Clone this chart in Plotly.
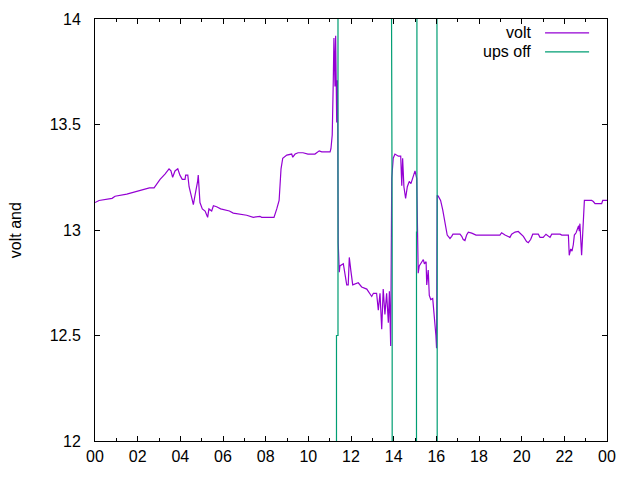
import plotly.graph_objects as go

# ---- data ----
volt_t = [0.00, 0.19, 0.80, 0.94, 1.49, 1.83, 2.19, 2.55, 2.77, 2.89, 3.05, 3.28, 3.47, 3.56, 3.64,
          3.75, 3.88, 3.98, 4.09, 4.22, 4.25, 4.35, 4.41, 4.53, 4.61, 4.69, 4.77, 4.81, 4.84, 4.92,
          5.03, 5.16, 5.28, 5.34, 5.47, 5.55, 5.70, 5.89, 6.30, 6.48, 7.11, 7.42, 7.73, 7.81, 8.39,
          8.44, 8.52, 8.63, 8.67, 8.72, 8.80, 8.99, 9.22, 9.27, 9.38, 9.52, 9.75, 9.98, 10.31, 10.51,
          10.63, 11.02, 11.06, 11.12, 11.17, 11.20, 11.25, 11.28, 11.33, 11.36, 11.38, 11.39, 11.40,
          11.45, 11.48, 11.64, 11.72, 11.80, 11.87, 11.92, 11.99, 12.08, 12.34, 12.50, 12.74, 12.86,
          12.97, 13.05, 13.20, 13.28, 13.36, 13.44, 13.51, 13.59, 13.67, 13.75, 13.80, 13.86, 13.88,
          13.91, 13.98, 14.06, 14.22, 14.33, 14.38, 14.42, 14.48, 14.56, 14.64, 14.73, 14.81, 14.89,
          15.00, 15.08, 15.10, 15.15, 15.20, 15.31, 15.39, 15.44, 15.52, 15.55, 15.62, 15.67, 15.74,
          15.83, 15.89, 15.94, 15.98, 16.01, 16.04, 16.09, 16.20, 16.30, 16.37, 16.45, 16.51, 16.56,
          16.64, 16.72, 16.78, 17.11, 17.19, 17.26, 17.34, 17.42, 17.50, 17.66, 17.86, 18.98, 19.06,
          19.22, 19.33, 19.45, 19.53, 19.69, 19.84, 19.92, 20.08, 20.23, 20.31, 20.42, 20.52, 20.78,
          20.86, 21.01, 21.14, 21.33, 21.41, 21.80, 21.88, 22.19, 22.23, 22.30, 22.36, 22.42, 22.47,
          22.55, 22.61, 22.67, 22.70, 22.73, 22.81, 22.89, 22.94, 23.28, 23.36, 23.44, 23.75, 23.80,
          24.00]
volt_v = [13.13, 13.14, 13.15, 13.16, 13.17, 13.18, 13.19, 13.20, 13.20, 13.22, 13.24, 13.265, 13.29,
          13.28, 13.25, 13.28, 13.29, 13.26, 13.24, 13.24, 13.26, 13.26, 13.205, 13.155, 13.12, 13.165,
          13.20, 13.23, 13.26, 13.13, 13.10, 13.09, 13.06, 13.10, 13.09, 13.115, 13.11, 13.10, 13.09,
          13.08, 13.07, 13.06, 13.065, 13.06, 13.06, 13.08, 13.10, 13.14, 13.24, 13.29, 13.34, 13.355,
          13.36, 13.345, 13.36, 13.366, 13.366, 13.36, 13.36, 13.375, 13.37, 13.37, 13.385, 13.45,
          13.71, 13.91, 13.68, 13.92, 13.51, 13.71, 13.50, 13.29, 12.94, 12.80, 12.83, 12.84, 12.795,
          12.74, 12.74, 12.87, 12.81, 12.74, 12.75, 12.73, 12.72, 12.70, 12.685, 12.70, 12.70, 12.62,
          12.70, 12.53, 12.72, 12.60, 12.70, 12.56, 12.71, 12.45, 12.80, 13.245, 13.34, 13.36, 13.35,
          13.35, 13.21, 13.34, 13.205, 13.15, 13.205, 13.23, 13.22, 13.25, 13.28, 13.245, 12.99,
          12.795, 12.83, 12.85, 12.86, 12.84, 12.85, 12.74, 12.81, 12.69, 12.67, 12.675, 12.61, 12.56,
          12.50, 12.44, 13.165, 13.16, 13.14, 13.095, 13.055, 13.015, 12.976, 12.97, 12.96, 12.97,
          12.98, 12.98, 12.97, 12.955, 12.95, 12.976, 12.99, 12.985, 12.976, 12.976, 12.987, 12.976,
          12.97, 12.965, 12.98, 12.99, 12.993, 12.985, 12.97, 12.945, 12.94, 12.955, 12.98, 12.98,
          12.965, 12.965, 12.98, 12.965, 12.98, 12.98, 12.976, 12.976, 12.88, 12.91, 12.90, 12.93,
          12.976, 12.987, 13.0, 13.02, 12.995, 13.03, 12.88, 13.01, 13.14, 13.14, 13.135, 13.125,
          13.125, 13.14, 13.14]

ups_t = [0, 11.32, 11.32, 11.39, 11.39, 13.90, 13.90, 13.93, 13.93, 15.07, 15.07, 15.09, 15.09,
         16.01, 16.01, 16.04, 16.04, 24]
ups_v = [0, 0, 12.5, 12.5, 100, 100, 13.0, 13.0, 0, 0, 12.99, 12.99, 100, 100, 13.0, 13.0, 0, 0]

tick_hours = list(range(0, 25, 2))
tick_text = ["00", "02", "04", "06", "08", "10", "12", "14", "16", "18", "20", "22", "00"]
series_names = ["volt", "ups off"]
colors = ["#9400D3", "#009E73"]

FONT = "Liberation Sans, Arial, sans-serif"

fig = go.Figure()
fig.add_trace(go.Scatter(x=volt_t, y=volt_v, mode="lines", name=series_names[0],
                         line=dict(color=colors[0], width=1.2)))
fig.add_trace(go.Scatter(x=ups_t, y=ups_v, mode="lines", name=series_names[1],
                         line=dict(color=colors[1], width=1.2)))

fig.update_layout(
    width=640, height=480,
    margin=dict(l=95, r=33, t=19, b=39),
    paper_bgcolor="white", plot_bgcolor="white",
    showlegend=False,
    font=dict(family=FONT, size=16, color="black"),
)
fig.update_xaxes(range=[0, 24], tickvals=tick_hours, ticktext=tick_text, automargin=False,
                 showgrid=False, zeroline=False, showline=True, linecolor="black", linewidth=1,
                 mirror="ticks", ticks="inside", ticklen=5, tickcolor="black",
                 ticklabelstandoff=1,
                 minor=dict(dtick=1, tick0=0, ticks="inside", ticklen=3, tickcolor="black", showgrid=False))
fig.update_yaxes(range=[12, 14], tickvals=[12, 12.5, 13, 13.5, 14], automargin=False,
                 ticktext=["12", "12.5", "13", "13.5", "14"],
                 showgrid=False, zeroline=False, showline=True, linecolor="black", linewidth=1,
                 mirror="ticks", ticks="inside", ticklen=5, tickcolor="black",
                 ticklabelstandoff=10)

# y-axis title
fig.add_annotation(text="volt and", xref="paper", yref="paper", x=-0.156, y=0.5,
                   textangle=-90, showarrow=False, xanchor="center", yanchor="middle",
                   font=dict(family=FONT, size=16))

# gnuplot style key (text then sample)
key_y = [0.967, 0.922]
for name, col, ky in zip(series_names, colors, key_y):
    fig.add_annotation(text=name, xref="paper", yref="paper", x=0.856, y=ky,
                       xanchor="right", yanchor="middle", showarrow=False,
                       font=dict(family=FONT, size=16))
    fig.add_shape(type="line", xref="paper", yref="paper", x0=0.879, x1=0.965, y0=ky, y1=ky,
                  line=dict(color=col, width=1.2))

fig.write_html("out.html")
